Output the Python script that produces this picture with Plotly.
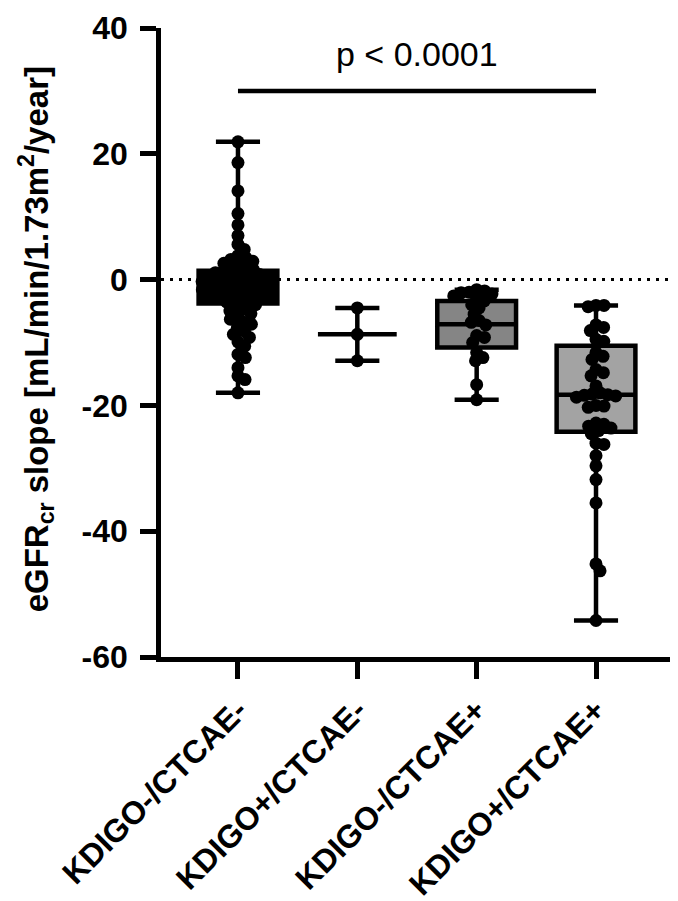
import math
import plotly.graph_objects as go

# groups on the x axis
groups = ["KDIGO-/CTCAE-", "KDIGO+/CTCAE-", "KDIGO-/CTCAE+", "KDIGO+/CTCAE+"]

# eGFRcr slope per patient (mL/min/1.73m2/year)
slope_kn_cn = [21.9, 18.6, 14.1, 10.5, 8.7, 7.0, 5.6, 4.8, 3.8, 3.5, 3.2, 2.9, 2.6,
               2.3, 2.0, 1.8, 1.6, 1.3, 1.1, 0.9, 0.8, 0.6, 0.5, 0.3, 0.2, 0.0, -0.1,
               -0.3, -0.4, -0.6, -0.7, -0.9, -1.0, -1.1, -1.3, -1.4, -1.6, -1.8, -1.9,
               -2.1, -2.3, -2.4, -2.6, -2.8, -3.0, -3.2, -3.4, -3.6, -4.0, -4.3, -4.7,
               -5.0, -5.4, -5.9, -6.3, -6.8, -7.1, -7.6, -8.2, -8.7, -9.2, -9.9,
               -10.6, -11.9, -12.4, -14.0, -15.3, -15.9, -18.0]
slope_kp_cn = [-4.5, -8.7, -12.9]
slope_kn_cp = [-1.6, -1.8, -2.0, -2.1, -2.3, -2.6, -3.0, -3.4, -4.0, -4.5, -5.5, -6.5,
               -6.8, -7.2, -8.9, -9.2, -10.0, -11.6, -12.4, -12.9, -16.7, -19.1]
slope_kp_cp = [-4.1, -4.1, -4.3, -7.2, -7.6, -8.1, -9.5, -9.8, -11.6, -12.2, -12.7,
               -14.3, -14.8, -15.3, -16.9, -18.0, -18.2, -18.3, -18.4, -18.5, -18.7,
               -20.0, -20.1, -20.3, -22.8, -23.0, -23.3, -23.6, -24.0, -24.5, -26.0,
               -26.2, -28.0, -29.6, -31.8, -35.5, -45.2, -46.3, -54.2]

# box summary (min to max whiskers)
q1 = [-3.8, -8.7, -10.8, -24.2]
median = [-1.0, -8.7, -7.1, -18.3]
q3 = [1.4, -8.7, -3.4, -10.5]
lower = [-18.0, -12.9, -19.1, -54.2]
upper = [21.9, -4.5, -1.6, -4.1]
box_fill = ["#000000", "#ffffff", "#858585", "#a3a3a3"]

y_ticks = [-60, -40, -20, 0, 20, 40]
y_tick_text = ["-60", "-40", "-20", "0", "20", "40"]
y_title = "eGFR<sub>cr</sub> slope [mL/min/1.73m<sup>2</sup>/year]"
p_text = "p < 0.0001"
p_bar_y = 30
p_bar_groups = [0, 3]

all_slopes = [slope_kn_cn, slope_kp_cn, slope_kn_cp, slope_kp_cp]

W, H = 678, 901
M = dict(l=153, r=8, t=20, b=252)
X_RANGE = [-0.645, 3.687]
Y_RANGE = [-60, 40]
plot_w = W - M["l"] - M["r"]
px_x = plot_w / (X_RANGE[1] - X_RANGE[0])
px_y = (H - M["t"] - M["b"]) / (Y_RANGE[1] - Y_RANGE[0])


def swarm(vals, dia=8.0):
    # simple beeswarm: nearest free spot to the centre line, in pixels
    placed = []
    offs = [0.0] * len(vals)
    for i in sorted(range(len(vals)), key=lambda k: -vals[k]):
        y = vals[i] * px_y
        cands = [0.0]
        for px, py in placed:
            dy = y - py
            if abs(dy) < dia:
                dx = math.sqrt(dia * dia - dy * dy)
                cands += [px + dx, px - dx]
        cands.sort(key=abs)
        for c in cands:
            if all((c - px) ** 2 + (y - py) ** 2 >= dia * dia - 1e-6 for px, py in placed):
                break
        placed.append((c, y))
        offs[i] = c / px_x
    return offs


fig = go.Figure()

for i, g in enumerate(groups):
    fig.add_trace(go.Box(
        x=[i], q1=[q1[i]], median=[median[i]], q3=[q3[i]],
        lowerfence=[lower[i]], upperfence=[upper[i]],
        width=0.66, whiskerwidth=0.56, boxpoints=False,
        fillcolor=box_fill[i], line=dict(color="black", width=4.5),
        showlegend=False, hoverinfo="skip",
    ))

for i, vals in enumerate(all_slopes):
    offs = swarm(vals)
    fig.add_trace(go.Scatter(
        x=[i + o for o in offs], y=vals, mode="markers",
        marker=dict(color="black", size=13, line=dict(width=0)),
        showlegend=False, hoverinfo="skip",
    ))

# significance bar
fig.add_trace(go.Scatter(
    x=p_bar_groups, y=[p_bar_y, p_bar_y], mode="lines",
    line=dict(color="black", width=4.5), showlegend=False, hoverinfo="skip",
))
fig.add_annotation(
    x=sum(p_bar_groups) / 2, y=p_bar_y, text=p_text, showarrow=False,
    yanchor="bottom", yshift=16,
    font=dict(family="Liberation Sans, Arial", size=34, color="black"),
)

# y axis title, placed by hand so it sits close to the left edge
fig.add_annotation(
    xref="paper", yref="paper", x=-125 / plot_w, y=0.505, text=y_title,
    textangle=-90, showarrow=False, xanchor="center", yanchor="middle",
    font=dict(family="Liberation Sans, Arial", size=33, weight="bold", color="black"),
)

# dotted zero line
fig.add_shape(type="line", xref="paper", x0=0, x1=1, y0=0, y1=0,
              line=dict(color="black", width=3, dash="3px,6px"), layer="below")

fig.update_layout(
    width=W, height=H, margin=M,
    plot_bgcolor="white", paper_bgcolor="white",
    font=dict(family="Liberation Sans, Arial", color="black"),
    xaxis=dict(
        range=X_RANGE, tickmode="array", tickvals=list(range(len(groups))), ticktext=groups,
        tickangle=-45, ticks="outside", ticklen=17, tickwidth=4.5, tickcolor="black",
        tickfont=dict(size=32, weight="bold"), automargin=False,
        showline=True, linewidth=4.5, linecolor="black", showgrid=False, zeroline=False,
    ),
    yaxis=dict(
        range=Y_RANGE, tickmode="array", tickvals=y_ticks, ticktext=y_tick_text,
        ticks="outside", ticklen=16, tickwidth=4.5, tickcolor="black",
        tickfont=dict(size=32, weight="bold"), automargin=False, ticklabelstandoff=6,
        showline=True, linewidth=4.5, linecolor="black", showgrid=False, zeroline=False,
    ),
)

fig.write_html("out.html")
